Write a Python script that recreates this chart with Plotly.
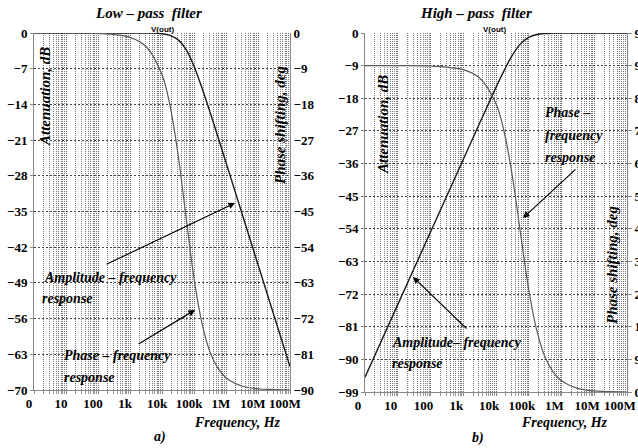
import plotly.graph_objects as go

# ---- data ----
freq = [1, 10, 100, 1e3, 3.16e3, 1e4, 1.78e4, 3.16e4, 5.62e4, 1e5, 1.78e5,
        3.16e5, 5.62e5, 1e6, 3.16e6, 1e7, 3.16e7, 1e8]

lp_amp_db = [0, 0, 0, 0, -0.02, -0.15, -0.45, -1.3, -3.2, -6.5, -10.8,
             -15.5, -20.4, -25.4, -35.4, -45.4, -55.4, -65.4]
lp_phase_deg = [0, 0, -0.1, -1.1, -3.4, -10.5, -18.3, -30.5, -46.3, -61.8, -73.2,
                -80.4, -84.5, -86.9, -89.0, -89.7, -89.9, -90]

hp_amp_db = [-94.9, -74.9, -54.9, -34.9, -24.9, -15.0, -10.3, -6.1, -3.0, -1.2, -0.4,
             -0.13, -0.04, -0.01, 0, 0, 0, 0]
hp_phase_deg = [90, 90, 89.9, 88.9, 86.6, 79.5, 71.7, 59.5, 43.7, 28.2, 16.8,
                9.6, 5.5, 3.1, 1.0, 0.3, 0.1, 0]

x_tickvals = [1, 10, 100, 1e3, 1e4, 1e5, 1e6, 1e7, 1e8]
x_ticktext = ["0", "10", "100", "1k", "10k", "100k", "1M", "10M", "100M"]

lp_db_ticks = list(range(0, -71, -7))
lp_deg_ticks = list(range(0, -91, -9))
hp_db_ticks = list(range(0, -100, -9))
hp_deg_ticks = list(range(0, 100, 9))

W, H = 638, 448
SERIF = "Liberation Serif"

def px(x):
    return x / W

def py(y):
    return 1 - y / H

fig = go.Figure()

AMP_COL = "#1a1a1a"
PH_COL = "#5a5a5a"

fig.add_trace(go.Scatter(x=freq, y=lp_amp_db, mode="lines", line=dict(color=AMP_COL, width=1.4, shape="spline"),
                         xaxis="x", yaxis="y", showlegend=False))
fig.add_trace(go.Scatter(x=freq, y=lp_phase_deg, mode="lines", line=dict(color=PH_COL, width=1.2, shape="spline"),
                         xaxis="x", yaxis="y2", showlegend=False))
fig.add_trace(go.Scatter(x=freq, y=hp_amp_db, mode="lines", line=dict(color=AMP_COL, width=1.4, shape="spline"),
                         xaxis="x2", yaxis="y3", showlegend=False))
fig.add_trace(go.Scatter(x=freq, y=hp_phase_deg, mode="lines", line=dict(color=PH_COL, width=1.2, shape="spline"),
                         xaxis="x2", yaxis="y4", showlegend=False))

tickfont = dict(family=SERIF, size=13, color="black", weight="bold")

def xaxis(domain, anchor, shift):
    return dict(type="log", range=[0, 8], domain=domain, anchor=anchor, automargin=False,
                tickmode="array", tickvals=x_tickvals, ticktext=x_ticktext,
                tickfont=tickfont, showline=True, linecolor="#888", linewidth=1,
                ticks="outside", ticklen=3, tickcolor="#888",
                ticklabelshift=shift, ticklabelstandoff=-2, ticklabeloverflow="allow",
                showgrid=True, gridcolor="#666", griddash="1px,1px", gridwidth=1,
                minor=dict(dtick="D1", showgrid=True, gridcolor="#777", griddash="1px,1px",
                           ticks="outside", ticklen=3, tickcolor="#999"),
                zeroline=False, fixedrange=True)

def yleft(domain, anchor, rng, ticks):
    return dict(range=rng, domain=domain, anchor=anchor, automargin=False, tickmode="array", tickvals=ticks,
                tickfont=tickfont, showline=True, linecolor="#888", ticks="outside", ticklen=3,
                tickcolor="#888", showgrid=True, gridcolor="#444", griddash="2px,2px", gridwidth=1,
                zeroline=False, fixedrange=True)

def yright(overlay, anchor, rng, ticks, tk):
    return dict(range=rng, overlaying=overlay, anchor=anchor, side="right", tickmode="array",
                automargin=False, tickvals=ticks, tickfont=tickfont, showline=True, linecolor="#888",
                ticks=tk, ticklen=4, tickcolor="#888", showgrid=False, zeroline=False, fixedrange=True)

dom_l = [px(34), px(290)]
dom_r = [px(365), px(627)]
ydom_l = [py(390), py(33)]
ydom_r = [py(392), py(33)]

fig.update_layout(
    width=W, height=H, margin=dict(l=0, r=0, t=0, b=0, autoexpand=False),
    paper_bgcolor="white", plot_bgcolor="white",
    xaxis=xaxis(dom_l, "y", -5),
    yaxis=yleft(ydom_l, "x", [-70, 0], lp_db_ticks),
    yaxis2=yright("y", "x", [-90, 0], lp_deg_ticks, ""),
    xaxis2=xaxis(dom_r, "y3", -7),
    yaxis3=yleft(ydom_r, "x2", [-99, 0], hp_db_ticks),
    yaxis4=yright("y3", "x2", [0, 99], hp_deg_ticks, "outside"),
)

ann = []

def text(x, y, s, size=14, xanchor="left", angle=0, family=SERIF, bold=True, italic=True):
    t = s
    if bold:
        t = "<b>" + t + "</b>"
    if italic:
        t = "<i>" + t + "</i>"
    ann.append(dict(x=px(x), y=py(y), xref="paper", yref="paper", text=t, showarrow=False,
                    xanchor=xanchor, yanchor="middle", textangle=angle,
                    font=dict(family=family, size=size, color="black")))

def arrow(tx, ty, hx, hy):
    ann.append(dict(x=px(hx), y=py(hy), xref="paper", yref="paper", text="", showarrow=True,
                    ax=tx - hx, ay=ty - hy, axref="pixel", ayref="pixel",
                    arrowhead=2, arrowsize=1.1, arrowwidth=1.2, arrowcolor="black"))

NB = "\u00a0"
text(148, 13, "Low" + NB + "–" + NB + "pass" + NB + NB + "filter", size=15, xanchor="center")
text(476, 13, "High" + NB + "–" + NB + "pass" + NB + NB + "filter", size=15, xanchor="center")
text(162, 29, "V(out)", size=8, xanchor="center", family="Liberation Sans", italic=False)
text(494, 30, "V(out)", size=8, xanchor="center", family="Liberation Sans", italic=False)

text(45, 96, "Attenuation, dB", size=15, xanchor="center", angle=-90)
text(280, 125, "Phase shifting, deg", size=15, xanchor="center", angle=-90)
text(383, 125, "Attenuation, dB", size=15, xanchor="center", angle=-90)
text(612, 265, "Phase shifting, deg", size=15, xanchor="center", angle=-90)

text(42, 277, "Amplitude" + NB + "–" + NB + "frequency")
text(40, 298, "response")
text(62, 355, "Phase" + NB + "–" + NB + "frequency")
text(62, 377, "response")
text(543, 112, "Phase" + NB + "–")
text(543, 135, "frequency")
text(543, 157, "response")
text(390, 342, "Amplitude–" + NB + "frequency")
text(390, 363, "response")

arrow(105, 265, 235, 203)
arrow(137, 345, 195, 310)
arrow(577, 168, 523, 218)
arrow(468, 330, 413, 277)

text(283, 422, "Frequency, Hz", xanchor="right")
text(610, 422, "Frequency, Hz", xanchor="right")
text(160, 437, "a)", xanchor="center")
text(478, 438, "b)", xanchor="center")

fig.update_layout(annotations=ann)

fig.write_html("out.html")
